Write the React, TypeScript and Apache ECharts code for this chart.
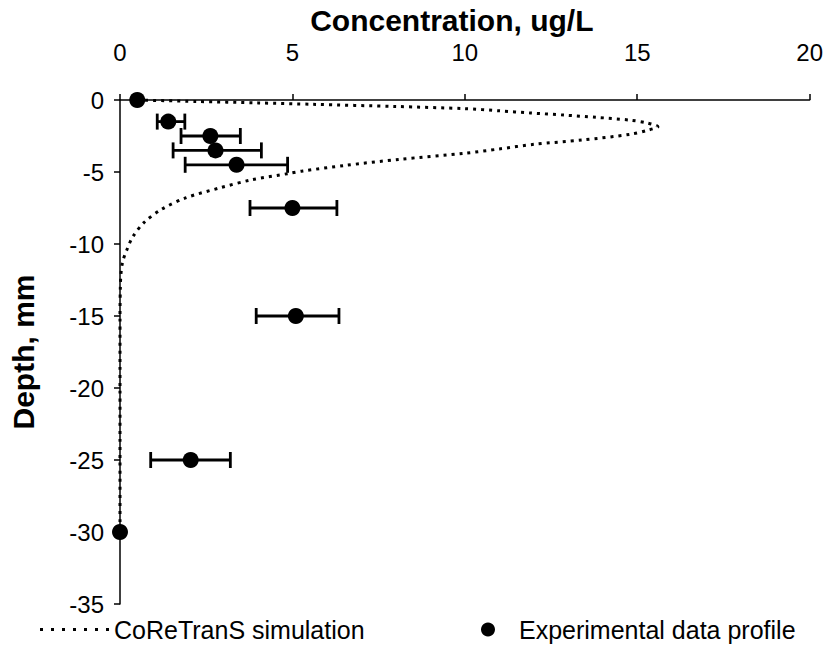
import React, { useEffect, useRef } from "react";
import * as echarts from "echarts";

// Simulated concentration profile (CoReTranS), depth in mm vs concentration in ug/L
const simDepth = [0, -0.1, -0.2, -0.3, -0.45, -0.6, -0.75, -0.9, -1.05, -1.2, -1.4, -1.6, -1.85, -2.1, -2.38, -2.78, -3.08, -3.4, -3.7, -4.12, -4.55, -4.93, -5.1, -5.55, -6.1, -6.8, -7.6, -8.5, -9.5, -10.4, -11.2, -12, -13, -15, -20, -25, -30];
const simConc = [0.5, 2.2, 4.0, 5.6, 8.0, 10.0, 11.0, 11.9, 12.9, 13.8, 14.8, 15.3, 15.6, 15.3, 14.8, 13.4, 12.0, 11.0, 10.0, 8.1, 6.5, 5.3, 4.9, 3.8, 2.9, 1.9, 1.2, 0.7, 0.37, 0.2, 0.08, 0.03, 0.01, 0, 0, 0, 0];

// Experimental data profile with error ranges
const expDepth = [0, -1.5, -2.5, -3.5, -4.5, -7.5, -15, -25, -30];
const expConc = [0.5, 1.4, 2.62, 2.77, 3.38, 5.0, 5.1, 2.05, 0];
const expLow = [null, 1.08, 1.77, 1.54, 1.89, 3.77, 3.95, 0.89, null];
const expHigh = [null, 1.88, 3.49, 4.1, 4.86, 6.29, 6.35, 3.2, null];

const xTicks = { min: 0, max: 20, interval: 5 };
const yTicks = { min: -35, max: 0, interval: 5 };

const FONT = "Liberation Sans, Arial, sans-serif";

// Seven small squares, used as the dotted-line legend icon
const DOTTED_ICON =
  "path://" +
  [0, 11, 22, 33, 44, 55, 66].map((x) => `M${x},0h3v3h-3z`).join(" ");

export default function App() {
  const ref = useRef<HTMLDivElement>(null);

  useEffect(() => {
    if (!ref.current) return;
    const chart = echarts.init(ref.current, null, { renderer: "svg" });

    const simData = simDepth.map((d, i) => [simConc[i], d]);
    const expData = expDepth.map((d, i) => [expConc[i], d]);
    const errData = expDepth
      .map((d, i) => [expLow[i], expHigh[i], d])
      .filter((r) => r[0] !== null && r[1] !== null);

    chart.setOption({
      animation: false,
      backgroundColor: "#fff",
      textStyle: { fontFamily: FONT, color: "#000" },
      grid: { left: 116, right: 11, top: 100, bottom: 43 },
      xAxis: {
        type: "value",
        position: "top",
        min: xTicks.min,
        max: xTicks.max,
        interval: xTicks.interval,
        name: "Concentration, ug/L",
        nameLocation: "middle",
        nameGap: 58,
        nameTextStyle: {
          fontSize: 30,
          fontWeight: "bold",
          fontFamily: FONT,
          color: "#000",
          padding: [0, 26, 0, 0],
        },
        axisLine: { show: true, onZero: false, lineStyle: { color: "#000", width: 1.5 } },
        axisTick: { show: true, length: 6, lineStyle: { color: "#000", width: 1.5 } },
        axisLabel: { fontSize: 24, color: "#000", fontFamily: FONT, margin: 36 },
        splitLine: { show: false },
      },
      yAxis: {
        type: "value",
        min: yTicks.min,
        max: yTicks.max,
        interval: yTicks.interval,
        name: "Depth, mm",
        nameLocation: "middle",
        nameGap: 82,
        nameRotate: 90,
        nameTextStyle: { fontSize: 30, fontWeight: "bold", fontFamily: FONT, color: "#000" },
        axisLine: { show: true, onZero: false, lineStyle: { color: "#000", width: 1.5 } },
        axisTick: { show: true, length: 6, lineStyle: { color: "#000", width: 1.5 } },
        axisLabel: { fontSize: 24, color: "#000", fontFamily: FONT, margin: 16 },
        splitLine: { show: false },
      },
      legend: [
        {
          data: [{ name: "CoReTranS simulation", icon: DOTTED_ICON }],
          left: 40,
          top: 617,
          padding: 0,
          itemWidth: 69,
          itemHeight: 3,
          itemStyle: { color: "#000" },
          textStyle: { fontSize: 25, color: "#000", fontFamily: FONT },
        },
        {
          data: [{ name: "Experimental data profile", icon: "circle" }],
          left: 481,
          top: 617,
          padding: 0,
          itemWidth: 14,
          itemHeight: 14,
          itemStyle: { color: "#000", opacity: 1 },
          textStyle: { fontSize: 25, color: "#000", fontFamily: FONT, padding: [0, 0, 0, 19] },
        },
      ],
      series: [
        {
          name: "CoReTranS simulation",
          type: "line",
          data: simData,
          smooth: 0.3,
          showSymbol: false,
          symbol: "none",
          clip: false,
          lineStyle: { color: "#000", width: 3, type: [3, 5] },
          itemStyle: { color: "#000" },
          z: 2,
        },
        {
          name: "errors",
          type: "custom",
          data: errData,
          encode: { x: [0, 1], y: 2 },
          clip: false,
          z: 3,
          renderItem: (params: any, api: any) => {
            const y = api.value(2);
            const p1 = api.coord([api.value(0), y]);
            const p2 = api.coord([api.value(1), y]);
            const h = 8;
            const st = { stroke: "#000", lineWidth: 2.8 };
            return {
              type: "group",
              children: [
                { type: "line", shape: { x1: p1[0], y1: p1[1], x2: p2[0], y2: p2[1] }, style: st },
                { type: "line", shape: { x1: p1[0], y1: p1[1] - h, x2: p1[0], y2: p1[1] + h }, style: st },
                { type: "line", shape: { x1: p2[0], y1: p2[1] - h, x2: p2[0], y2: p2[1] + h }, style: st },
              ],
            };
          },
        },
        {
          name: "Experimental data profile",
          type: "scatter",
          data: expData,
          symbol: "circle",
          symbolSize: 16,
          clip: false,
          itemStyle: { color: "#000", opacity: 1 },
          z: 4,
        },
      ],
    });

    return () => chart.dispose();
  }, []);

  return <div ref={ref} style={{ width: 826, height: 647, position: "absolute", left: 0, top: 0 }} />;
}
